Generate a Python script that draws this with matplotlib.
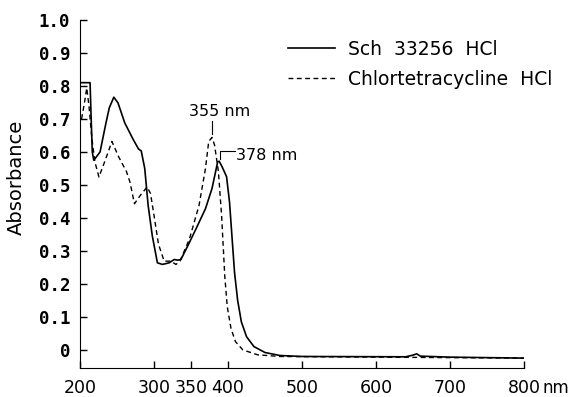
"""
UV absorption spectra: Sch 33256 HCl vs chlortetracycline HCl.
"""

import matplotlib
matplotlib.use("Agg")
from matplotlib import pyplot as plt


# wavelength (nm) / absorbance
sch_wl  = [200, 213.5, 215, 216.5, 218.5, 222, 227, 235, 239.5, 245.6, 251.2,
           260.4, 272, 279, 282.7, 287.4, 292, 297.6, 304.5, 311.3, 320.5,
           327.3, 331.8, 336.3, 345.5, 356.5, 369.5, 378.3, 386, 388, 392,
           398, 402, 408.8, 413, 418, 425, 435, 450, 470, 500, 640, 650, 655,
           660, 700, 800]
sch_abs = [0.81, 0.81, 0.70, 0.60, 0.575, 0.585, 0.60, 0.688, 0.734, 0.766,
           0.749, 0.688, 0.637, 0.609, 0.603, 0.55, 0.438, 0.346, 0.264, 0.259,
           0.264, 0.274, 0.272, 0.274, 0.315, 0.366, 0.428, 0.489, 0.57, 0.572,
           0.555, 0.525, 0.448, 0.234, 0.15, 0.085, 0.04, 0.01, -0.008, -0.017,
           -0.02, -0.021, -0.016, -0.012, -0.019, -0.022, -0.025]

ctc_wl  = [202, 206, 209, 212, 216, 220, 225.5, 235, 243, 252, 262.8, 267.4,
           273.5, 281.3, 290.6, 295.2, 300, 306, 313.7, 322.8, 329.6, 335,
           347.8, 360.8, 369.5, 373.9, 378.3, 381.8, 387, 391.3, 395.6, 399,
           404, 410, 420, 440, 470, 800]
ctc_abs = [0.70, 0.75, 0.794, 0.74, 0.64, 0.57, 0.524, 0.581, 0.632, 0.586,
           0.54, 0.509, 0.443, 0.468, 0.494, 0.474, 0.407, 0.32, 0.269, 0.269,
           0.259, 0.269, 0.336, 0.438, 0.55, 0.632, 0.644, 0.621, 0.54, 0.407,
           0.223, 0.13, 0.065, 0.025, 0.0, -0.015, -0.02, -0.025]

xticks  = [200, 300, 350, 400, 500, 600, 700, 800]
yticks  = [0, 0.1, 0.2, 0.3, 0.4, 0.5, 0.6, 0.7, 0.8, 0.9, 1.0]
ylabels = ["0", "0.1", "0.2", "0.3", "0.4", "0.5", "0.6", "0.7", "0.8", "0.9", "1.0"]


fig = plt.figure(figsize=(5.72, 3.97), dpi=100)
ax = fig.add_axes([0.14, 0.073, 0.776, 0.8766])

ax.plot(sch_wl, sch_abs, color="black", lw=1.2, label="Sch  33256  HCl")
ax.plot(ctc_wl, ctc_abs, color="black", lw=1.0, ls=(0, (3.5, 2.5)),
        label="Chlortetracycline  HCl")

# peak markers
ax.plot([378.3, 378.3], [0.655, 0.695], color="black", lw=0.8)
ax.text(388, 0.722, "355 nm", ha="center", va="center", fontsize=11.5)
ax.plot([388.5, 388.5, 409], [0.58, 0.603, 0.603], color="black", lw=0.8)
ax.text(411, 0.59, "378 nm", ha="left", va="center", fontsize=11.5)

ax.set_xlim(200, 800)
ax.set_ylim(-0.055, 1.0)
ax.spines["top"].set_visible(False)
ax.spines["right"].set_visible(False)

ax.set_xticks(xticks)
ax.set_xticklabels([str(t) for t in xticks], fontsize=12.5)
ax.set_yticks(yticks)
ax.set_yticklabels(ylabels, fontsize=12.5, family="DejaVu Sans Mono",
                   fontweight="bold")
ax.tick_params(direction="in", length=5, width=1)
ax.tick_params(axis="x", pad=8)
ax.tick_params(axis="y", pad=7)
ax.annotate("nm", xy=(800, 0), xycoords=("data", "axes fraction"),
            xytext=(13, -8), textcoords="offset points", va="top",
            fontsize=12)

ax.set_ylabel("Absorbance", fontsize=14)
ax.yaxis.set_label_coords(-0.122, 0.549)

ax.legend(loc="upper left", frameon=False, fontsize=13.5, handlelength=2.5,
          handletextpad=0.7, labelspacing=0.6, borderpad=0, borderaxespad=0,
          bbox_to_anchor=(0.5035, 0.9), bbox_transform=fig.transFigure)

plt.savefig("out.png", dpi=100)
